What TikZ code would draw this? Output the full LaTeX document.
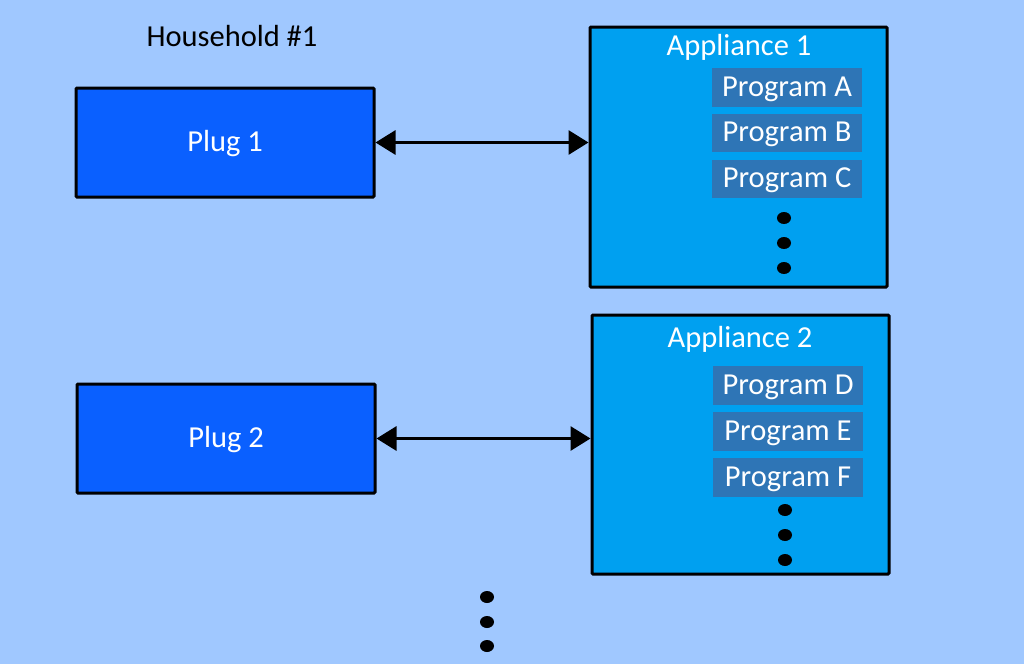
\documentclass[tikz,border=0pt]{standalone}
\usepackage{fontspec}
\setmainfont{Carlito}
\usetikzlibrary{arrows.meta,shapes.geometric}
\definecolor{bg}{HTML}{A0C8FF}
\definecolor{plugc}{HTML}{0A60FF}
\definecolor{appc}{HTML}{00A0F0}
\definecolor{progc}{HTML}{2E75B6}
\tikzset{
  x=1pt,y=-1pt,
  box/.style={draw=black,line width=3pt,rounded corners=1pt},
  plugbox/.style={box,fill=plugc},
  appbox/.style={box,fill=appc},
  progbox/.style={fill=progc,minimum width=150pt,minimum height=38.5pt,inner sep=0pt,text=white,font=\fontsize{30.5}{34}\selectfont},
  lbl/.style={inner sep=0pt,font=\fontsize{30.5}{34}\selectfont},
  progtxt/.style={lbl,text=white},
  dot/.style={fill=black,ellipse,minimum width=14pt,minimum height=12pt,inner sep=0pt},
  link/.style={line width=3pt,{Triangle[length=20pt,width=24pt]}-{Triangle[length=20pt,width=24pt]}}
}
\begin{document}
\begin{tikzpicture}
\fill[bg] (0,0) rectangle (1024,664);
\useasboundingbox (0,0) rectangle (1024,664);
\node[lbl] (hh) at (232,36) {Household \#1};
% plugs
\node[plugbox,minimum width=298pt,minimum height=109pt] (p1) at (225,142.5) {};
\node[lbl,text=white] (p1t) at ([yshift=-1.5pt]p1.center) {Plug 1};
\node[plugbox,minimum width=298pt,minimum height=109pt] (p2) at (226,438.5) {};
\node[lbl,text=white] (p2t) at ([yshift=-1.5pt]p2.center) {Plug 2};
% appliance 1
\node[appbox,minimum width=297pt,minimum height=260pt] (a1) at (738.5,157) {};
\node[lbl,text=white] (a1t) at (739,47) {Appliance 1};
\node[progbox] (pa) at (787,87.5) {};
\node[progtxt] at ([yshift=-1.5pt]pa.center) {Program A};
\node[progbox] (pb) at (787,133) {};
\node[progtxt] at ([yshift=-1.5pt]pb.center) {Program B};
\node[progbox] (pc) at (787,179) {};
\node[progtxt] at ([yshift=-1.5pt]pc.center) {Program C};
\node[dot] (d1) at (784,218) {};
\node[dot] (d2) at (784,243) {};
\node[dot] (d3) at (784,268) {};
% appliance 2
\node[appbox,minimum width=297pt,minimum height=259pt] (a2) at (740.5,444.5) {};
\node[lbl,text=white] (a2t) at (740,339) {Appliance 2};
\node[progbox] (pd) at (788,385.5) {};
\node[progtxt] at ([yshift=-1.5pt]pd.center) {Program D};
\node[progbox] (pe) at (788,431.5) {};
\node[progtxt] at ([yshift=-1.5pt]pe.center) {Program E};
\node[progbox] (pf) at (788,477.5) {};
\node[progtxt] at ([yshift=-1.5pt]pf.center) {Program F};
\node[dot] (d4) at (785,510) {};
\node[dot] (d5) at (785,535) {};
\node[dot] (d6) at (785,560) {};
% bottom dots
\node[dot] (d7) at (487,597) {};
\node[dot] (d8) at (487,622) {};
\node[dot] (d9) at (487,646) {};
% links
\draw[link] (p1.east) -- (p1.east -| a1.west);
\draw[link] (p2.east) -- (p2.east -| a2.west);
\end{tikzpicture}
\end{document}
